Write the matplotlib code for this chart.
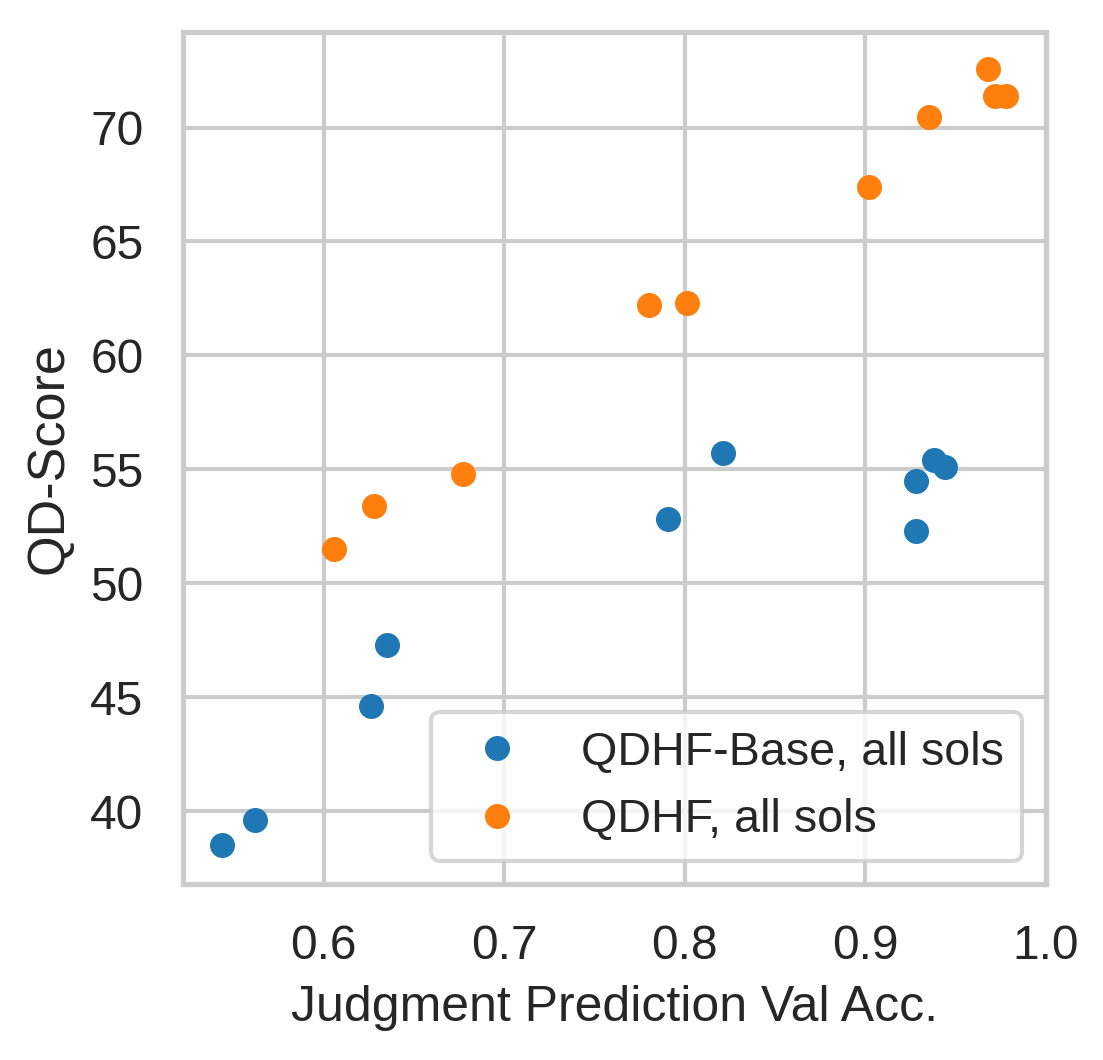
import matplotlib
matplotlib.use('Agg')
import matplotlib.pyplot as plt
import seaborn as sns

# judgment prediction val acc vs QD-score
base_acc = [0.5435, 0.5618, 0.626, 0.635, 0.7906, 0.821, 0.928, 0.928, 0.938, 0.944]
base_qd = [38.5, 39.6, 44.6, 47.3, 52.8, 55.7, 54.5, 52.3, 55.4, 55.1]

qdhf_acc = [0.6055, 0.6277, 0.677, 0.780, 0.801, 0.902, 0.9355, 0.968, 0.9717, 0.978]
qdhf_qd = [51.5, 53.4, 54.8, 62.2, 62.3, 67.4, 70.45, 72.55, 71.4, 71.4]

sns.set_theme(style='whitegrid')
plt.rcParams['font.family'] = ['Liberation Sans', 'DejaVu Sans']

fig = plt.figure(figsize=(1103/300, 1060/300), dpi=300)
ax = fig.add_axes([0.166, 0.166, 0.782, 0.804])

ax.plot(base_acc, base_qd, 'o', color='#1f77b4', markersize=5, label='QDHF-Base, all sols')
ax.plot(qdhf_acc, qdhf_qd, 'o', color='#ff7f0e', markersize=5, label='QDHF, all sols')

ax.set_xlim(0.522, 1.0)
ax.set_ylim(36.8, 74.2)
ax.set_xticks([0.6, 0.7, 0.8, 0.9, 1.0])
ax.set_yticks([40, 45, 50, 55, 60, 65, 70])
ax.tick_params(labelsize=11.5)
ax.set_xlabel('Judgment Prediction Val Acc.', fontsize=12)
ax.set_ylabel('QD-Score', fontsize=12.5)
for s in ax.spines.values():
    s.set_color('#cccccc')
    s.set_linewidth(1.25)
ax.legend(loc='lower right', fontsize=11.2, handlelength=2.0)

fig.savefig('out.png', dpi=300)
